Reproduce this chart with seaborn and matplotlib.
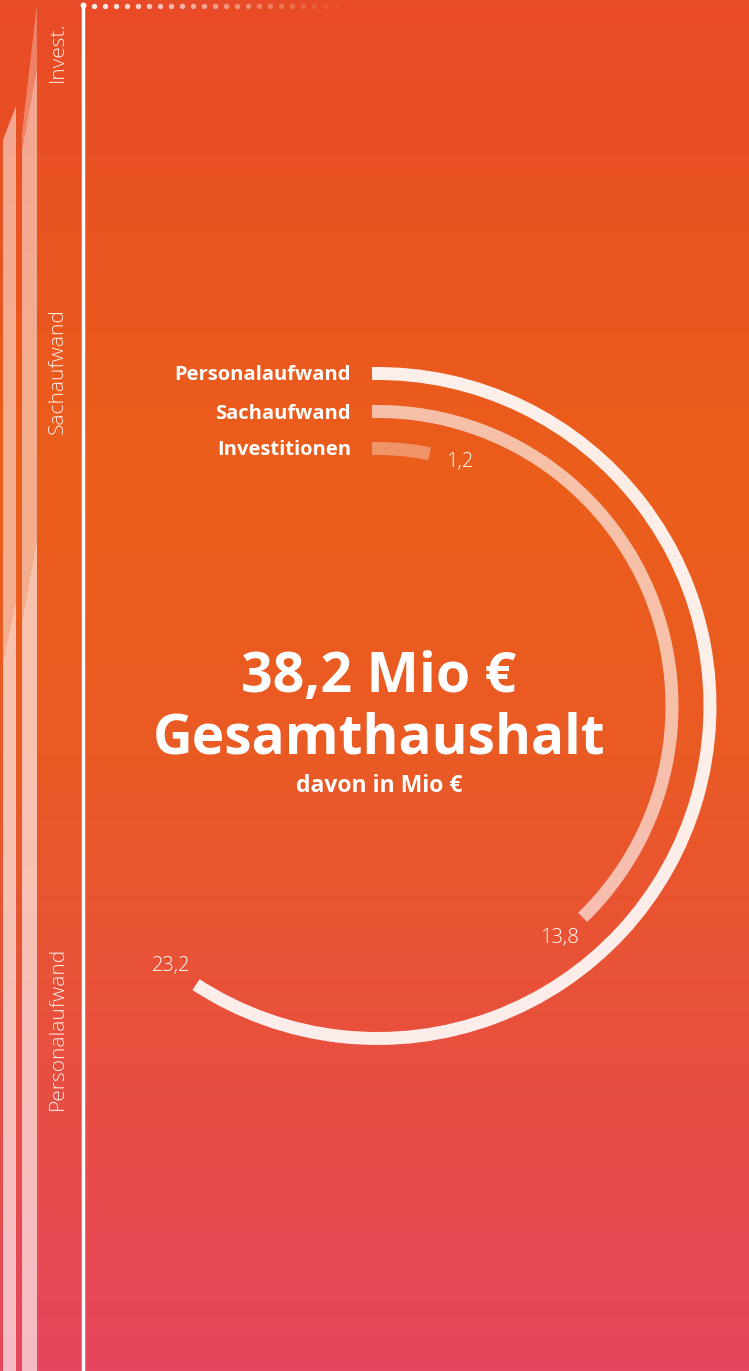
import numpy as np
import matplotlib
matplotlib.use('Agg')
import matplotlib.pyplot as plt
from matplotlib.colors import LinearSegmentedColormap
import seaborn as sns

# --- data ---
categories = ['Personalaufwand', 'Sachaufwand', 'Investitionen']
values = [23.2, 13.8, 1.2]
value_labels = ['23,2', '13,8', '1,2']
total_label = '38,2 Mio €'
title_label = 'Gesamthaushalt'
sub_label = 'davon in Mio €'

# left strip: stacked columns (front column = this budget, back column estimated)
strip_labels = ['Personalaufwand', 'Sachaufwand', 'Invest.']
strip_front = [23.2, 13.8, 1.2]
strip_back = [21.7, 14.9]

# --- figure setup ---
sns.set_theme(style='white')
plt.rcParams['font.family'] = ['Open Sans', 'DejaVu Sans']

W, H = 749, 1371
fig = plt.figure(figsize=(W / 100, H / 100), dpi=100)


def fx(x):
    return x / W


def fy(y):
    return 1 - y / H


# background gradient
bg = fig.add_axes([0, 0, 1, 1])
grad = LinearSegmentedColormap.from_list(
    'bg', [(0.0, '#e84b27'), (0.35, '#eb5e1b'), (0.55, '#ea5a24'),
           (0.78, '#e84f40'), (1.0, '#e6465e')])
bg.imshow(np.linspace(0, 1, 256).reshape(-1, 1), cmap=grad, aspect='auto',
          extent=[0, W, H, 0])
bg.set_xlim(0, W)
bg.set_ylim(H, 0)
bg.set_axis_off()

# white frame line with fading dots
bg.plot([83, 83], [5, H], color='white', lw=2.5, solid_capstyle='butt')
bg.scatter([83], [5], s=18, color='white', zorder=3, linewidths=0)
dot_x = np.arange(94, 345, 11)
dot_alpha = np.linspace(0.9, 0.04, len(dot_x))
for xd, a in zip(dot_x, dot_alpha):
    bg.scatter([xd], [5.5], s=15, color='white', alpha=a, linewidths=0)

# --- left stacked strip ---
px_per_unit = 34.1
strip = fig.add_axes([0, 0, fx(40), 1])
strip.set_xlim(0, 40)
strip.set_ylim(0, H / px_per_unit)
strip.set_axis_off()
strip.patch.set_alpha(0)

seg_alpha = [0.64, 0.5, 0.3]


def slanted_stack(ax, x0, x1, vals, slants):
    bottom = 0.0
    for i, v in enumerate(vals):
        top = bottom + v
        lo = 0 if i == 0 else slants[i - 1]
        hi = slants[i]
        xs = [x0, x1, x1, x0]
        ys = [bottom - lo, bottom + lo, top + hi, top - hi]
        if i == 0:
            ys[0] = ys[1] = 0
        ax.fill(xs, ys, color='white', alpha=seg_alpha[i], lw=0)
        bottom = top


slanted_stack(strip, 3, 16, strip_back, [0.9, 0.5])
slanted_stack(strip, 22, 37, strip_front, [1.2, 1.2, 1.9])

label_pos = [(58, 1028), (58, 371), (58, 52)]
for lab, (x, y) in zip(strip_labels, label_pos):
    fig.text(fx(x), fy(y), lab, rotation=90, ha='center', va='center',
             color='white', alpha=0.9, fontsize=15, fontweight='light')

# --- radial bars ---
cx, cy, R = 377.5, 706, 360
pol = fig.add_axes([fx(cx - R), fy(cy + R), 2 * R / W, 2 * R / H],
                   projection='polar')
pol.set_theta_zero_location('N')
pol.set_theta_direction(-1)
pol.set_rlim(0, R)
pol.set_axis_off()
pol.patch.set_alpha(0)

radii = [332.5, 294.5, 257.5]
thick = 13
arc_alpha = [0.9, 0.62, 0.35]
# arc length per unit grows slightly on the outer rings
arc_px_per_unit = 51.0
ring_growth = 0.4
start_px = -5.5

for cat, v, lab, r, a in zip(categories, values, value_labels, radii, arc_alpha):
    start = start_px / r
    theta = v * arc_px_per_unit * (r / radii[1]) ** ring_growth / r
    pol.bar(start, thick, width=theta, bottom=r - thick / 2, align='edge',
            color='white', alpha=a, linewidth=0)
    pol.text(start + theta + 31 / r, r, lab, ha='center', va='center',
             color='white', fontsize=14.5, fontweight='light')
    fig.text(fx(351), fy(cy - r + 7), cat, ha='right', va='baseline',
             color='white', fontsize=14.5, fontweight='bold')

# --- centre text ---
fig.text(fx(379), fy(692), total_label, ha='center', va='baseline',
         color='white', fontsize=40, fontweight='bold')
fig.text(fx(379), fy(753), title_label, ha='center', va='baseline',
         color='white', fontsize=39.5, fontweight='bold')
fig.text(fx(379), fy(792), sub_label, ha='center', va='baseline',
         color='white', fontsize=16.5, fontweight='bold')

fig.savefig('out.png', dpi=100)
